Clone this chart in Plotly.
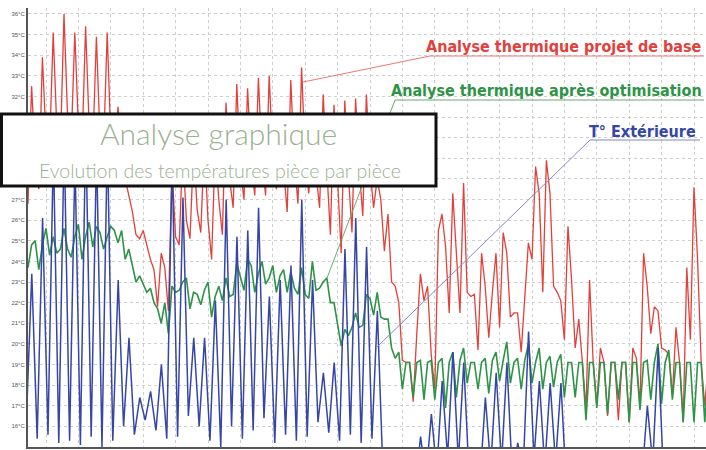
import plotly.graph_objects as go

# ---------------- data (temperatures in °C, time in days) ----------------
# red & green: sampled every 1/3 day
red_base = [
    26.8, 32.5, 29.0,  27.5, 33.9, 30.0,  29.5, 35.1, 30.5,  29.5, 36.0, 31.0,
    29.8, 35.1, 30.5,  29.5, 35.4, 30.5,  29.5, 34.9, 30.0,  29.5, 35.1, 30.0,
    29.0, 31.5, 29.5,  28.0, 27.2, 26.4,  25.3, 25.1, 25.5,  24.8, 24.1, 23.6,
    21.8, 24.4, 23.7,  21.6, 28.5, 25.2,  24.8, 29.5, 26.0,  25.1, 29.5, 26.5,
    25.4, 29.8, 26.0,  24.1, 29.5, 27.0,  25.3, 31.7, 28.0,  26.6, 32.6, 28.5,
    27.0, 32.4, 28.8,  27.2, 32.9, 29.0,  27.2, 33.0, 29.0,  27.5, 30.5, 28.5,
    26.4, 32.8, 28.8,  26.8, 33.4, 29.0,  27.3, 30.5, 28.3,  26.6, 32.1, 28.5,
    25.3, 31.6, 28.0,  24.4, 31.8, 28.2,  25.4, 31.9, 28.5,  26.2, 32.1, 28.5,
    26.6, 28.0, 27.0,  24.5, 26.3, 23.0,  22.8, 22.0, 19.2,  19.1, 19.1, 17.2,
    20.5, 23.4, 22.1,  22.8, 19.5, 17.8,  25.5, 26.3, 24.7,  21.5, 27.3, 24.5,
    21.5, 27.8, 22.5,  22.3, 22.4, 19.7,  24.4, 22.8, 20.3,  22.5, 24.4, 20.8,
    25.4, 24.4, 21.3,  21.5, 21.5, 19.6,  22.0, 24.9, 24.1,  28.6, 27.3, 22.5,
    28.9, 27.3, 22.8,  22.5, 22.1, 20.2,  25.7, 23.1, 19.8,  21.2, 19.1, 16.8,
    23.1, 19.1, 17.0,  19.8, 19.1, 16.5,  19.1, 19.1, 16.3,  19.1, 19.1, 16.2,
    19.8, 19.3, 17.0,  24.4, 22.8, 20.5,  21.8, 21.6, 19.8,  19.7, 19.5, 17.5,
    20.8, 19.1, 16.2,  23.7, 20.2, 27.6,  24.1, 19.1, 17.0,  19.1,
]

green_opt = [
    23.7, 24.8, 25.0,  23.6, 24.8, 25.6,  24.3, 25.2, 24.4,  24.6, 25.6, 24.6,
    24.2, 25.2, 25.8,  24.1, 25.2, 25.9,  24.7, 25.7, 25.4,  24.6, 25.2, 25.7,
    25.5, 24.9, 25.5,  24.1, 24.6, 23.8,  23.0, 23.3, 22.9,  22.5, 22.7, 22.0,
    21.7, 21.0, 22.0,  20.5, 22.8, 22.5,  22.6, 23.0, 23.2,  21.7, 22.5, 22.4,
    21.9, 22.6, 23.0,  21.3, 22.3, 22.8,  22.1, 23.2, 22.3,  22.4, 23.9, 23.2,
    22.6, 24.1, 23.8,  22.5, 23.4, 24.0,  22.9, 23.2, 23.8,  22.5, 23.3, 23.6,
    22.5, 23.5, 22.7,  22.4, 23.7, 22.4,  22.2, 24.0, 22.6,  22.7, 23.0, 23.2,
    22.0, 22.0, 20.9,  19.9, 20.7, 20.4,  20.8, 21.5, 20.8,  20.9, 22.4, 22.2,
    21.4, 22.5, 21.3,  21.2, 21.2, 19.8,  19.3, 19.6, 17.8,  19.1, 19.1, 17.4,
    19.1, 19.2, 17.3,  19.1, 19.2, 17.3,  19.1, 19.3, 16.9,  19.1, 19.6, 17.4,
    19.2, 19.8, 18.1,  19.1, 19.1, 17.8,  19.1, 19.3, 17.6,  19.2, 19.6, 18.2,
    19.2, 20.1, 18.1,  19.1, 19.3, 17.8,  19.2, 20.0, 18.1,  19.1, 19.8, 17.8,
    19.1, 19.4, 17.9,  19.1, 19.5, 17.4,  19.1, 19.1, 17.4,  19.1, 19.1, 16.3,
    19.1, 19.1, 16.9,  19.1, 19.1, 16.6,  19.1, 19.1, 17.3,  19.1, 19.1, 16.2,
    19.1, 19.1, 16.8,  19.1, 19.2, 17.3,  19.1, 20.0, 17.1,  19.1, 19.7, 17.3,
    19.1, 19.1, 16.2,  19.1, 19.1, 16.2,  19.1, 19.1, 16.2,  19.1,
]
t_rooms = [i / 3 for i in range(len(red_base))]

# outdoor temperature: one night low and one afternoon high per day
blue_ext = [
    16.3, 23.4,  15.4, 26.1,  15.6, 29.5,  15.2, 30.0,  15.3, 29.0,  15.1, 30.5,
    15.5, 29.5,  15.0, 30.0,  15.3, 23.1,  16.0, 20.3,  15.6, 17.4,  16.3, 17.7,
    15.8, 19.0,  15.4, 29.0,  15.5, 27.1,  16.5, 20.3,  16.0, 20.3,  15.3, 22.1,
    15.0, 27.0,  16.0, 25.2,  15.4, 25.5,  15.8, 26.6,  16.4, 22.3,  15.2, 23.1,
    15.6, 23.8,  15.3, 27.0,  15.5, 23.1,  16.2, 18.6,  15.7, 19.1,  15.3, 24.6,
    15.6, 26.1,  15.2, 24.7,  15.4, 21.6,  14.0, 14.5,  13.0, 13.5,  12.8, 14.0,
    13.0, 15.5,  13.5, 16.6,  13.8, 18.2,  14.5, 19.6,  14.3, 19.1,  13.5, 14.5,
    13.3, 17.4,  14.0, 18.6,  14.2, 19.1,  13.5, 15.2,  13.8, 20.6,  14.4, 18.2,
    14.0, 18.1,  14.2, 18.1,  13.0, 14.0,  12.5, 13.5,  12.5, 13.8,  12.0, 13.2,
    12.3, 14.0,  12.5, 14.2,  13.0, 14.5,  13.5, 17.0,  14.2, 19.8,  13.5, 14.6,
    13.0, 14.2,  12.8, 14.0,  12.5, 13.8,  12.6,
]
t_ext = [k + off for k in range(63) for off in (-0.15, 0.35)] + [62.85]

y_ticks = list(range(15, 37))
y_labels = [f"{v}°C" for v in y_ticks]
series_names = ["Analyse thermique projet de base",
                "Analyse thermique après optimisation",
                "T° Extérieure"]
title_main = "Analyse graphique"
title_sub = "Evolution des températures pièce par pièce"

# ---------------- layout helpers (pixel -> paper) ----------------
W, H = 706, 450
ML, MR, MT, MB = 28, 0, 8, 3
PW, PH = W - ML - MR, H - MT - MB


def px(x):
    return (x - ML) / PW


def py(y):
    return (H - MB - y) / PH


RED, GREEN, BLUE = "#e2403b", "#2e9347", "#3646a6"

fig = go.Figure()
fig.add_trace(go.Scatter(x=t_rooms, y=red_base, mode="lines",
                         line=dict(color=RED, width=1.3), name=series_names[0]))
fig.add_trace(go.Scatter(x=t_rooms, y=green_opt, mode="lines",
                         line=dict(color=GREEN, width=1.6), name=series_names[1]))
fig.add_trace(go.Scatter(x=t_ext, y=blue_ext, mode="lines",
                         line=dict(color=BLUE, width=1.5), name=series_names[2]))

shapes = []


def seg(x0, y0, x1, y1, color):
    shapes.append(dict(type="line", xref="paper", yref="paper",
                       x0=px(x0), y0=py(y0), x1=px(x1), y1=py(y1),
                       line=dict(color=color, width=1), layer="above"))


seg(303, 82, 430, 56, "#e87a76")
seg(430, 56, 704, 56, "#e87a76")
seg(327, 278, 395, 100, "#62ad72")
seg(395, 100, 704, 100, "#62ad72")
seg(377, 347, 590, 140, "#8088c8")
seg(590, 140, 700, 140, "#8088c8")
shapes.append(dict(type="rect", xref="paper", yref="paper",
                   x0=px(1.5), y0=py(186), x1=px(436), y1=py(114),
                   fillcolor="white", line=dict(color="#111111", width=3),
                   layer="above"))

LBL = "Liberation Sans Narrow, DejaVu Sans Condensed, Arial Narrow, sans-serif"
annotations = [
    dict(text="<b>" + series_names[0] + "</b>", x=px(704), y=py(46),
         font=dict(family=LBL, size=16, color=RED)),
    dict(text="<b>" + series_names[1] + "</b>", x=px(704), y=py(90),
         font=dict(family=LBL, size=16, color=GREEN)),
    dict(text="<b>" + series_names[2] + "</b>", x=px(698), y=py(131),
         font=dict(family=LBL, size=16, color=BLUE)),
]
for a in annotations:
    a.update(xref="paper", yref="paper", xanchor="right", yanchor="middle",
             showarrow=False)
annotations += [
    dict(text=title_main, x=px(218), y=py(133), xref="paper", yref="paper",
         xanchor="center", yanchor="middle", showarrow=False,
         font=dict(family="Lato, Noto Sans, sans-serif", size=30,
                   color="#9cb091", weight=300)),
    dict(text=title_sub, x=px(220), y=py(171), xref="paper", yref="paper",
         xanchor="center", yanchor="middle", showarrow=False,
         font=dict(family="Lato, Noto Sans, sans-serif", size=19.5,
                   color="#9cb091", weight=300)),
]

fig.update_layout(
    width=W, height=H,
    margin=dict(l=ML, r=MR, t=MT, b=MB, pad=0),
    paper_bgcolor="white", plot_bgcolor="white",
    showlegend=False,
    shapes=shapes, annotations=annotations,
    xaxis=dict(range=[0, 62.78], tick0=1.67, dtick=3.0, showticklabels=False,
               ticks="", showgrid=True, gridcolor="#cfcfcf", griddash="dot",
               gridwidth=1, zeroline=False, showline=True, linecolor="#555555",
               linewidth=2),
    yaxis=dict(range=[15, 36.29], tickmode="array", tickvals=y_ticks,
               ticktext=y_labels,
               tickfont=dict(family="Liberation Sans, sans-serif", size=6,
                             color="#555555"),
               ticks="", showgrid=True, gridcolor="#cfcfcf", griddash="dot",
               gridwidth=1, zeroline=False, showline=True, linecolor="#555555",
               linewidth=2, automargin=False),
)

fig.write_html("out.html")
